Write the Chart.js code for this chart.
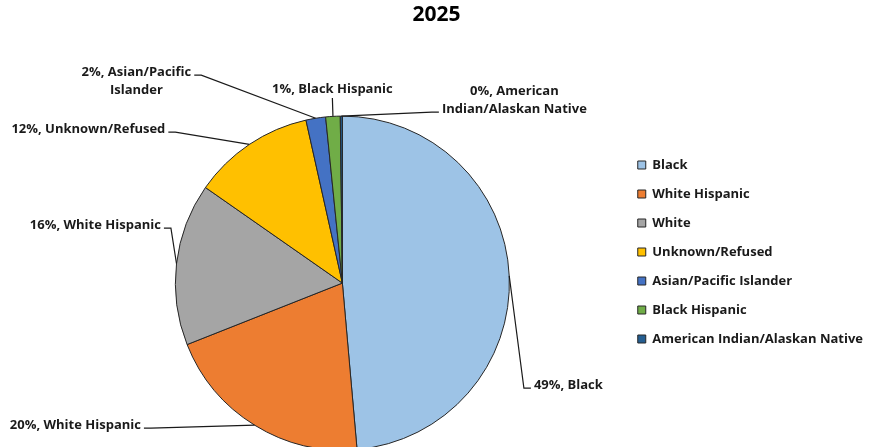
<!DOCTYPE html>
<html>
<head>
<meta charset="utf-8">
<title>2025</title>
<script src="https://cdn.jsdelivr.net/npm/chart.js@4.4.1/dist/chart.umd.min.js"></script>
<style>
  html, body { margin: 0; padding: 0; background: #fff; overflow: hidden; font-family: "Open Sans", sans-serif; }
  #wrap { position: relative; width: 873px; height: 504px; }
</style>
</head>
<body>
<div id="wrap"><canvas id="chart"></canvas></div>
<script>
// share of each group, percent
const categories = ['Black', 'White Hispanic', 'White', 'Unknown/Refused', 'Asian/Pacific Islander', 'Black Hispanic', 'American Indian/Alaskan Native'];
const shares = [48.6, 20.4, 15.7, 11.8, 1.9, 1.4, 0.2];
// names printed next to each slice (\n = line break)
const sliceNames = ['Black', 'White Hispanic', 'White Hispanic', 'Unknown/Refused', 'Asian/Pacific\nIslander', 'Black Hispanic', 'American\nIndian/Alaskan Native'];
const sliceColors = ['#9DC3E6', '#ED7D31', '#A5A5A5', '#FFC000', '#4472C4', '#70AD47', '#255E91'];

// label placement, offsets from the pie centre; side = where the leader line leaves the text
const labelSpots = [
  {dx: 226, dy: 102, side: 'left', row: 0},
  {dx: -267, dy: 142, side: 'right', row: 0},
  {dx: -247, dy: -58, side: 'right', row: 0},
  {dx: -254, dy: -154, side: 'right', row: 0},
  {dx: -206, dy: -202, side: 'right', row: 0},
  {dx: -10, dy: -194, side: 'bottom', row: 0},
  {dx: 172, dy: -183, side: 'left', row: 1}
];

const FONT = '"Open Sans", sans-serif';
const ROW = 18;

const sliceLabels = {
  id: 'sliceLabels',
  afterDatasetsDraw(chart) {
    const ctx = chart.ctx;
    const meta = chart.getDatasetMeta(0);
    const total = shares.reduce((a, b) => a + b, 0);
    ctx.save();
    ctx.font = 'bold 13px ' + FONT;
    ctx.fillStyle = '#1a1a1a';
    ctx.strokeStyle = '#1a1a1a';
    ctx.lineWidth = 1.2;
    ctx.textAlign = 'center';
    ctx.textBaseline = 'middle';
    meta.data.forEach((arc, i) => {
      const spot = labelSpots[i];
      const p = arc.getProps(['x', 'y', 'startAngle', 'endAngle', 'outerRadius'], true);
      const mid = (p.startAngle + p.endAngle) / 2;
      const ax = p.x + Math.cos(mid) * p.outerRadius;
      const ay = p.y + Math.sin(mid) * p.outerRadius;

      const pct = Math.round(shares[i] / total * 100);
      const lines = (pct + '%, ' + sliceNames[i]).split('\n');
      const tx = p.x + spot.dx;
      const top = p.y + spot.dy - (lines.length - 1) * ROW / 2;
      lines.forEach((l, k) => ctx.fillText(l, tx, top + k * ROW));

      const w = ctx.measureText(lines[spot.row]).width;
      const rowY = top + spot.row * ROW + 3;
      let sx, sy, ex, ey;
      if (spot.side === 'left') {
        sx = tx - w / 2 - 3; sy = rowY; ex = sx - 7; ey = sy;
      } else if (spot.side === 'right') {
        sx = tx + w / 2 + 3; sy = rowY; ex = sx + 7; ey = sy;
      } else {
        sx = tx; sy = top + (lines.length - 1) * ROW + 9; ex = sx; ey = sy;
      }
      ctx.beginPath();
      ctx.moveTo(sx, sy);
      ctx.lineTo(ex, ey);
      ctx.lineTo(ax, ay);
      ctx.stroke();
    });
    ctx.restore();
  }
};

function drawChart() {
  new Chart(document.getElementById('chart'), {
    type: 'pie',
    data: {
      labels: categories,
      datasets: [{
        data: shares,
        backgroundColor: sliceColors,
        borderColor: '#262626',
        borderWidth: 1
      }]
    },
    options: {
      responsive: true,
      maintainAspectRatio: false,
      animation: false,
      radius: 167,
      plugins: {
        title: {
          display: true,
          text: '2025',
          color: '#000',
          font: {family: FONT, size: 21, weight: 'bold'},
          padding: {top: 2, bottom: 35}
        },
        // empty block on the left to push the pie across
        subtitle: {
          display: true,
          position: 'left',
          text: '',
          font: {size: 10},
          padding: {top: 0, bottom: 51}
        },
        legend: {
          position: 'right',
          maxWidth: 320,
          labels: {
            boxWidth: 8,
            boxHeight: 8,
            padding: 16,
            color: '#1a1a1a',
            font: {family: FONT, size: 13, weight: 'bold'}
          }
        },
        tooltip: {enabled: false}
      }
    },
    plugins: [sliceLabels]
  });
}

// make sure the font is ready before the legend gets measured
document.fonts.load('bold 13px "Open Sans"').then(drawChart, drawChart);
</script>
</body>
</html>
